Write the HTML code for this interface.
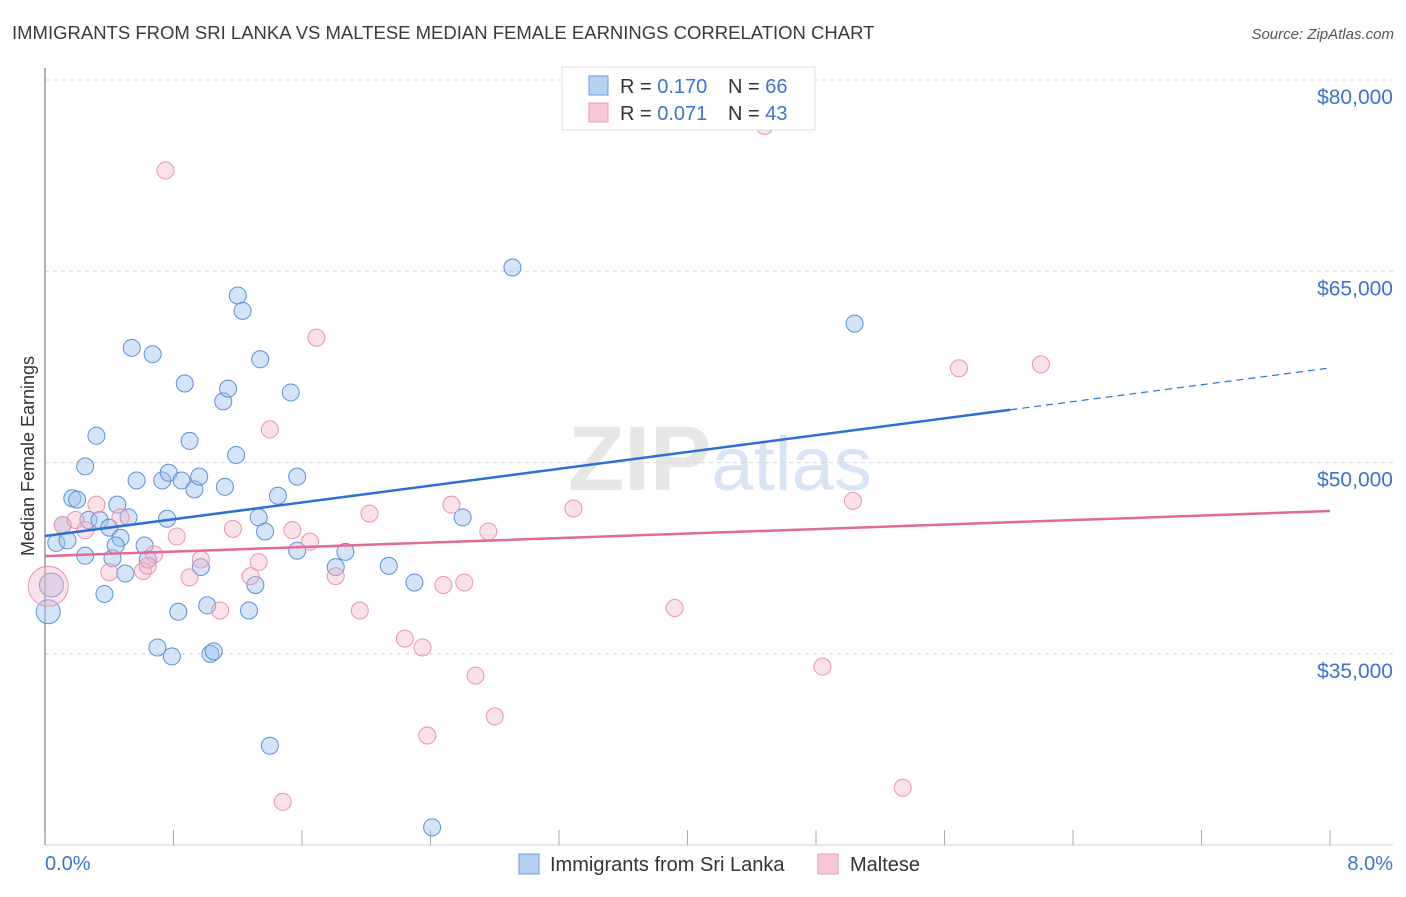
<!DOCTYPE html>
<html><head><meta charset="utf-8"><style>
body{margin:0;background:#fff;font-family:"Liberation Sans",sans-serif}
svg text{font-family:"Liberation Sans",sans-serif}
</style></head><body>
<svg id="chart" width="1406" height="892" xmlns="http://www.w3.org/2000/svg">
<text x="12" y="39" font-size="18.5" fill="#3a3a3a">IMMIGRANTS FROM SRI LANKA VS MALTESE MEDIAN FEMALE EARNINGS CORRELATION CHART</text>
<text x="1394" y="39" font-size="15" fill="#555" font-style="italic" text-anchor="end">Source: ZipAtlas.com</text>
<text x="720" y="490" font-size="92" fill="#e6e6e6" text-anchor="middle" font-family="Liberation Serif" font-weight="bold">ZIP<tspan fill="#d6e4f5" font-family="Liberation Sans" font-weight="normal" font-size="76">atlas</tspan></text>
<g id="grid"></g>
<g id="axes"></g>
<g id="pts"></g>
<g id="trend"></g>
<text transform="translate(34,456) rotate(-90)" font-size="18" fill="#333" text-anchor="middle">Median Female Earnings</text>
<g>
<rect x="562" y="67" width="253" height="63" fill="#fff" stroke="#ddd"/>
<rect x="589" y="76" width="19" height="19" fill="#b8d1f3" stroke="#6a9ae0"/>
<rect x="589" y="103" width="19" height="19" fill="#f8c8d6" stroke="#e99ab4"/>
<text x="620" y="93" font-size="20" fill="#333">R = <tspan fill="#3b73d1">0.170</tspan></text>
<text x="728" y="93" font-size="20" fill="#333">N = <tspan fill="#3b73d1">66</tspan></text>
<text x="620" y="120" font-size="20" fill="#333">R = <tspan fill="#3b73d1">0.071</tspan></text>
<text x="728" y="120" font-size="20" fill="#333">N = <tspan fill="#3b73d1">43</tspan></text>
</g>
<g>
<rect x="519" y="854" width="20" height="20" fill="#b8d1f3" stroke="#6a9ae0"/>
<text x="550" y="871" font-size="20" fill="#333">Immigrants from Sri Lanka</text>
<rect x="818" y="854" width="20" height="20" fill="#f8c8d6" stroke="#e99ab4"/>
<text x="850" y="871" font-size="20" fill="#333">Maltese</text>
</g>
</svg>
<script>
const xTicks=[0,0.8,1.6,2.4,3.2,4,4.8,5.6,6.4,7.2,8];
const yTicks=[35000,50000,65000,80000];
const yTickLabels=["$35,000","$50,000","$65,000","$80,000"];
const blueX=[0.02,0.04,0.07,0.11,0.14,0.17,0.20,0.25,0.25,0.27,0.32,0.34,0.37,0.40,0.42,0.45,0.47,0.50,0.52,0.54,0.57,0.62,0.64,0.67,0.70,0.73,0.76,0.77,0.79,0.83,0.85,0.87,0.90,0.93,0.96,0.97,1.01,1.03,1.05,1.11,1.12,1.14,1.19,1.20,1.23,1.27,1.31,1.33,1.34,1.37,1.40,1.45,1.53,1.57,1.57,1.81,1.87,2.14,2.30,2.41,2.60,2.91,5.04,0.44];
const blueY=[38300,40400,43700,45100,43900,47200,47100,49700,42700,45500,52100,45500,39700,44900,42500,46700,44100,41300,45700,59000,48600,43500,42400,58500,35500,48600,45600,49200,34800,38300,48600,56200,51700,47900,48900,41800,38800,35000,35200,54800,48100,55800,50600,63100,61900,38400,40400,45700,58100,44600,27800,47400,55500,43100,48900,41800,43000,41900,40600,21400,45700,65300,60900,43500];
const pinkX=[0.02,0.11,0.19,0.25,0.32,0.40,0.47,0.61,0.68,0.75,0.82,0.90,0.97,1.09,1.17,1.28,1.33,1.40,1.48,1.54,1.65,1.69,1.81,1.96,2.02,2.24,2.35,2.38,2.48,2.53,2.61,2.68,2.76,2.80,3.29,3.92,4.48,4.84,5.03,5.34,5.69,6.20,0.64];
const pinkY=[40300,45100,45500,44700,46700,41400,45700,41500,42800,72900,44200,41000,42400,38400,44800,41100,42200,52600,23400,44700,43800,59800,41100,38400,46000,36200,35500,28600,40400,46700,40600,33300,44600,30100,46400,38600,76400,34000,47000,24500,57400,57700,41900];
const blueTrend=[44240,57420];
const pinkTrend=[42670,46200];
const blueSolidEnd=6.01;
const NS="http://www.w3.org/2000/svg";
const X=v=>45+v*160.625;
const Y=v=>80+(80000-v)*0.012753;
function mk(t,a,p){const e=document.createElementNS(NS,t);for(const k in a)e.setAttribute(k,a[k]);p.appendChild(e);return e;}
const grid=document.getElementById('grid'),axes=document.getElementById('axes');
yTicks.forEach((v,i)=>{
 const l=mk('line',{x1:45,x2:1393,y1:Y(v),y2:Y(v),stroke:'#d8d8d8','stroke-dasharray':'4,4'},grid);
 
 
 const t=mk('text',{x:1393,y:Y(v)+24,'font-size':21,fill:'#3b73d1','text-anchor':'end'},axes);
 t.textContent=yTickLabels[i];
 
 
});
const ax=mk('line',{x1:45,x2:45,y1:68,y2:845,stroke:'#999','stroke-width':1.5},axes);


const bx=mk('line',{x1:45,x2:1393,y1:845,y2:845,stroke:'#ccc'},axes);


xTicks.forEach(v=>{
 const t=mk('line',{x1:X(v),x2:X(v),y1:830,y2:845,stroke:'#aaa'},axes);
 
 
});
[[0,'0.0%','start',45],[8,'8.0%','end',1393]].forEach(d=>{
 const t=mk('text',{x:d[3],y:870,'font-size':20,fill:'#3b73d1','text-anchor':d[2]},axes);
 t.textContent=d[1];
 
 
});
const pts=document.getElementById('pts');
blueX.forEach((x,i)=>{
 const r=i<2?12:8.5;
 const c=mk('circle',{cx:X(x),cy:Y(blueY[i]),r:r,fill:'rgba(160,196,240,0.45)',stroke:'#5a8fd8','stroke-width':1},pts);
 
 
});
pinkX.forEach((x,i)=>{
 const r=i==0?20:8.5;
 const c=mk('circle',{cx:X(x),cy:Y(pinkY[i]),r:r,fill:'rgba(244,180,200,0.4)',stroke:'#e895b0','stroke-width':1},pts);
 
 
});
const tr=document.getElementById('trend');
const by=x=>blueTrend[0]+(blueTrend[1]-blueTrend[0])*x/8;
let l1=mk('line',{x1:X(0),y1:Y(by(0)),x2:X(blueSolidEnd),y2:Y(by(blueSolidEnd)),stroke:'#2c6fd6','stroke-width':2.5},tr);


let l2=mk('line',{x1:X(blueSolidEnd),y1:Y(by(blueSolidEnd)),x2:X(8),y2:Y(by(8)),stroke:'#2c6fd6','stroke-width':1.2,'stroke-dasharray':'7,5'},tr);


let l3=mk('line',{x1:X(0),y1:Y(pinkTrend[0]),x2:X(8),y2:Y(pinkTrend[1]),stroke:'#e26a95','stroke-width':2.5},tr);


</script>
</body></html>
